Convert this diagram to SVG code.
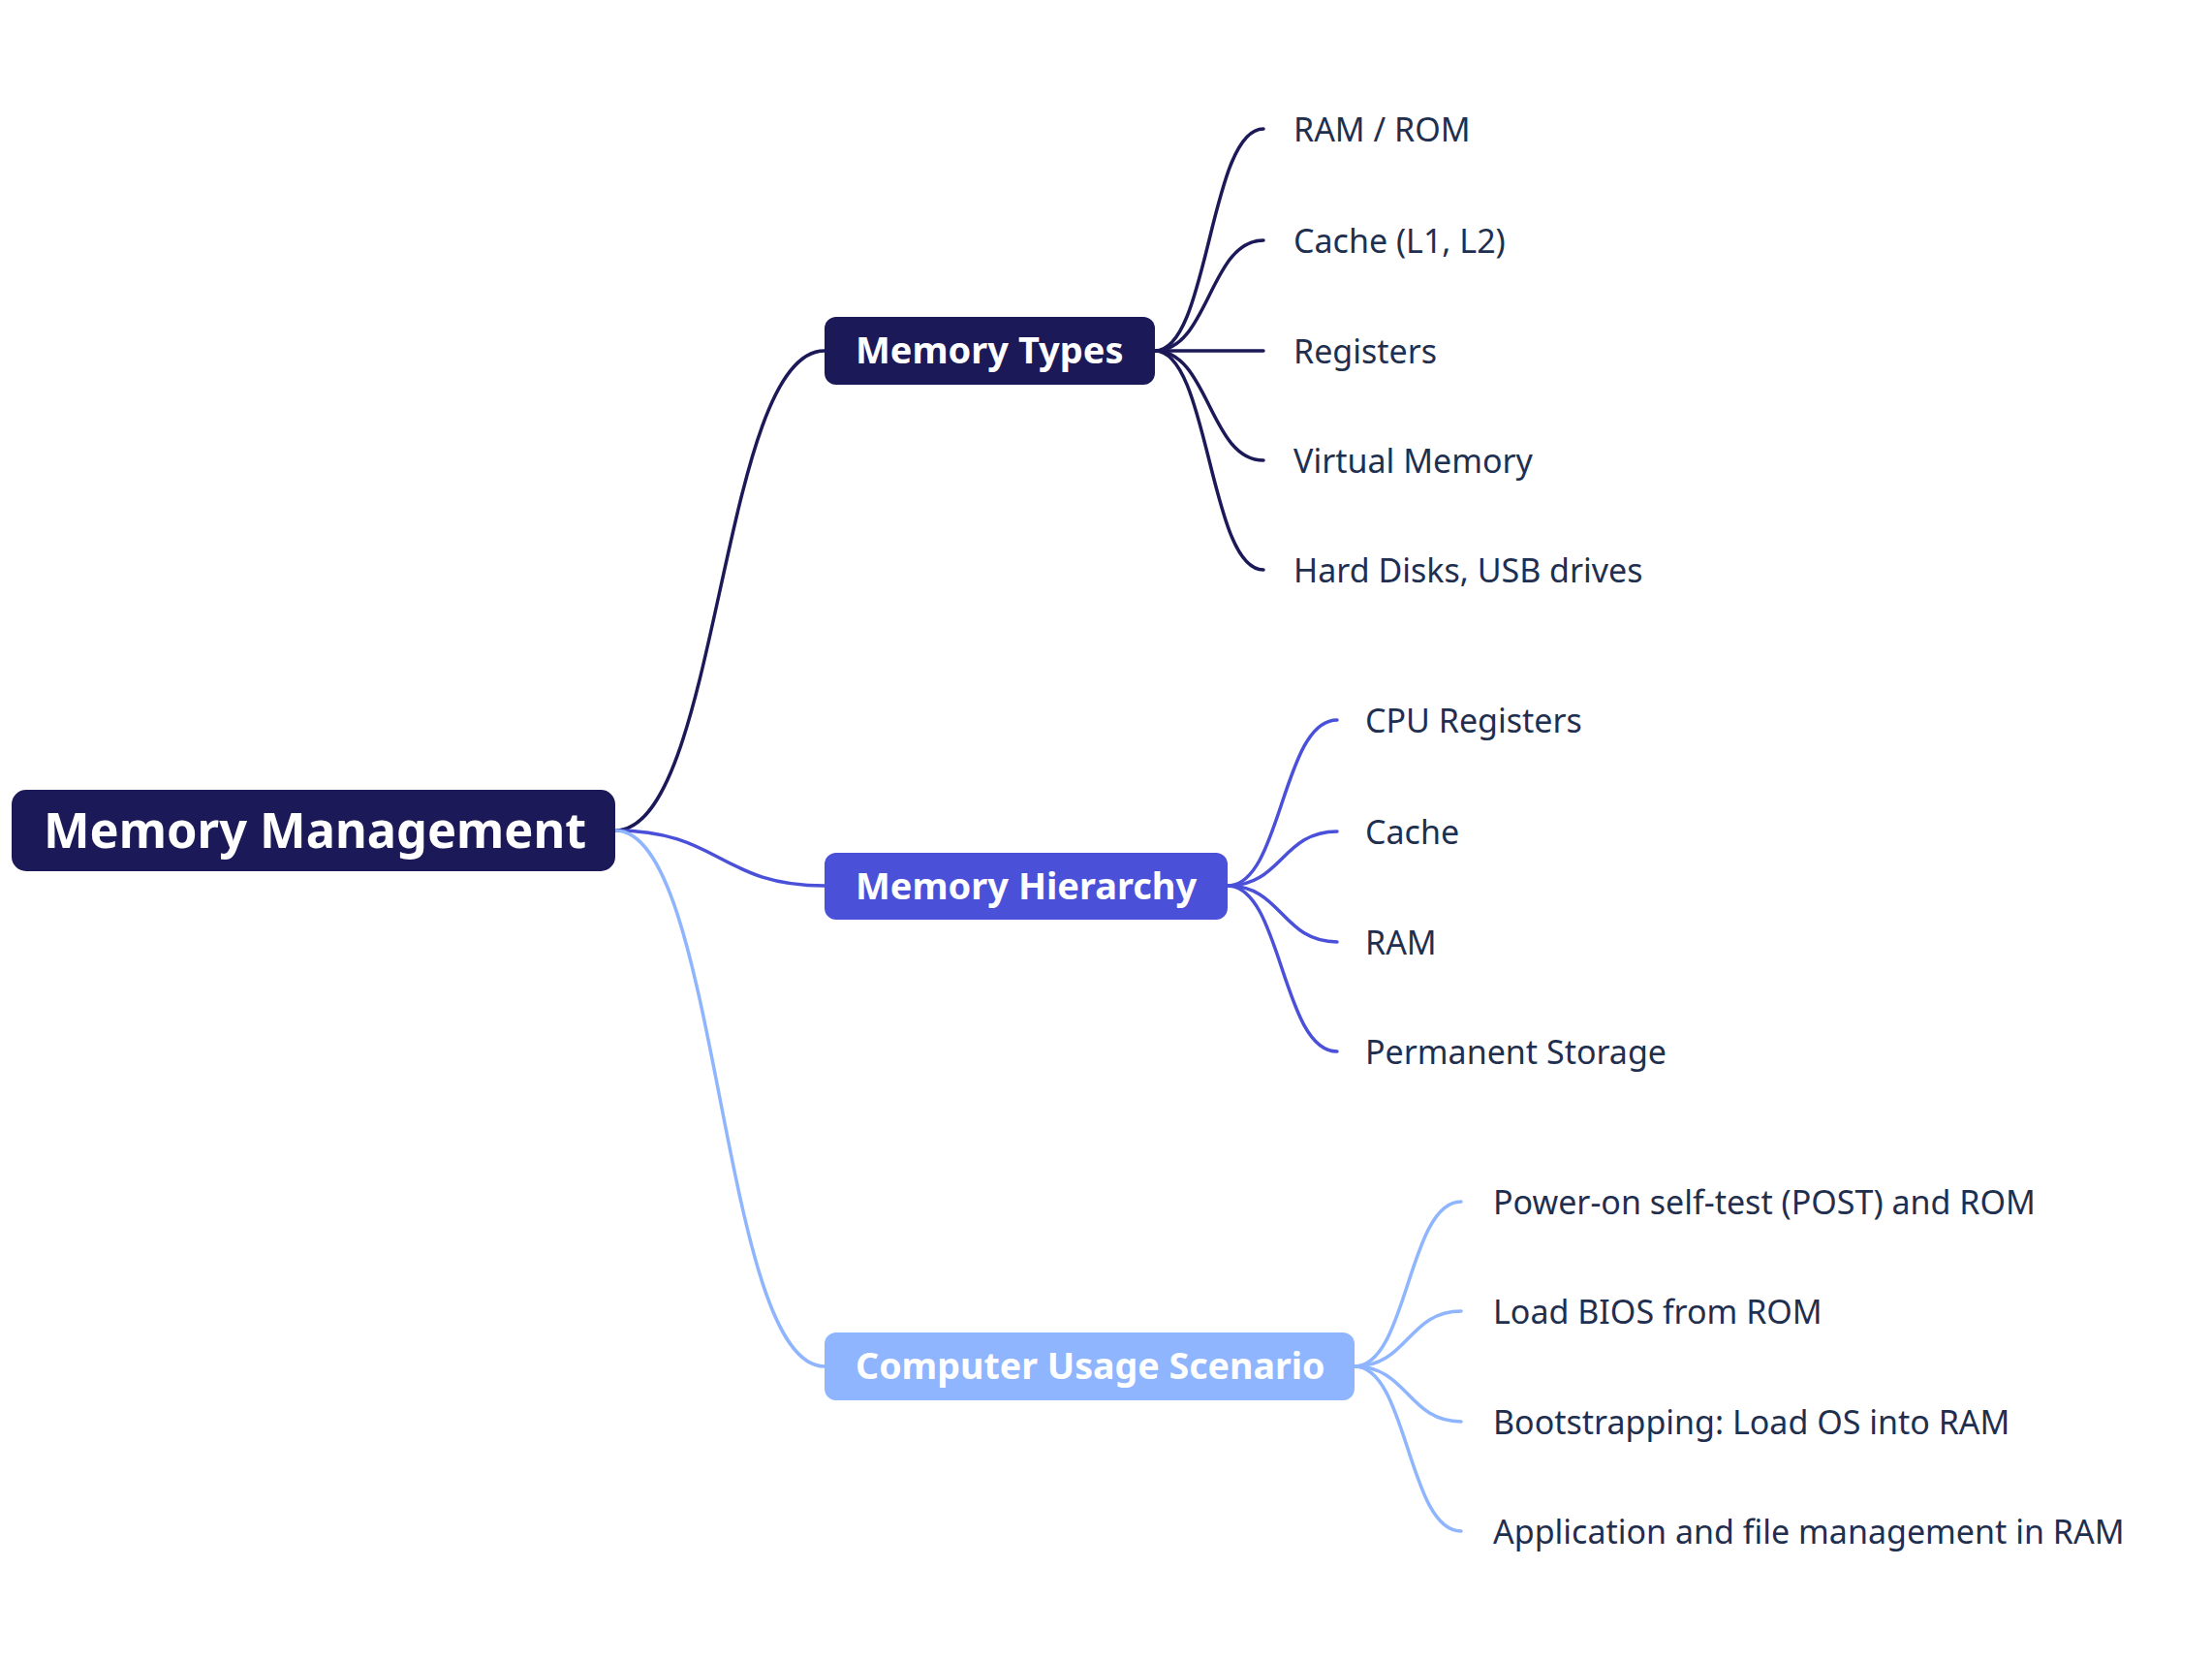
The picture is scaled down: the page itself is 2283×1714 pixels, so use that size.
<svg xmlns="http://www.w3.org/2000/svg" width="2283" height="1714" viewBox="0 0 2283 1714">
<style>
.box-text{font-family:"Noto Sans","Open Sans","Liberation Sans",sans-serif;font-weight:700;fill:#ffffff}
.leaf{font-family:"Noto Sans","Open Sans","Liberation Sans",sans-serif;font-size:34px;fill:#1f2f4f}
.c{fill:none;stroke-width:3.5;stroke-linecap:round}
.navy{stroke:#1b1958}
.blue{stroke:#4a51d8}
.light{stroke:#8fb5ff}
</style>
<rect width="2283" height="1714" fill="#ffffff"/>
<g id="connectors">
  <path class="c navy" d="M635,857 C743,857 743,362 851,362"/>
  <path class="c blue" d="M635,857 C743,857 743,914 851,914"/>
  <path class="c light" d="M635,857 C743,857 743,1410 851,1410"/>
  <path class="c navy" d="M1192,362 C1248,362 1248,133 1304,133"/>
  <path class="c navy" d="M1192,362 C1248,362 1248,248 1304,248"/>
  <path class="c navy" d="M1192,362 L1304,362"/>
  <path class="c navy" d="M1192,362 C1248,362 1248,475 1304,475"/>
  <path class="c navy" d="M1192,362 C1248,362 1248,588 1304,588"/>
  <path class="c blue" d="M1267,914 C1323,914 1323,743 1380,743"/>
  <path class="c blue" d="M1267,914 C1323,914 1323,858 1380,858"/>
  <path class="c blue" d="M1267,914 C1323,914 1323,972 1380,972"/>
  <path class="c blue" d="M1267,914 C1323,914 1323,1085 1380,1085"/>
  <path class="c light" d="M1398,1410 C1453,1410 1453,1240 1508,1240"/>
  <path class="c light" d="M1398,1410 C1453,1410 1453,1353 1508,1353"/>
  <path class="c light" d="M1398,1410 C1453,1410 1453,1467 1508,1467"/>
  <path class="c light" d="M1398,1410 C1453,1410 1453,1580 1508,1580"/>
</g>
<g id="root">
  <rect x="12" y="815" width="623" height="84" rx="15" fill="#1b1958"/>
  <text class="box-text" x="45" y="875" font-size="50.5">Memory Management</text>
</g>
<g id="memory-types">
  <rect x="851" y="327" width="341" height="70" rx="12" fill="#1b1958"/>
  <text class="box-text" x="883" y="375" font-size="38">Memory Types</text>
</g>
<g id="memory-hierarchy">
  <rect x="851" y="880" width="416" height="69" rx="12" fill="#4a51d8"/>
  <text class="box-text" x="883" y="928" font-size="38">Memory Hierarchy</text>
</g>
<g id="computer-usage">
  <rect x="851" y="1375" width="547" height="70" rx="12" fill="#8fb5ff"/>
  <text class="box-text" x="883" y="1423" font-size="37.6">Computer Usage Scenario</text>
</g>
<g id="leaf-ram-rom"><text class="leaf" x="1335" y="146">RAM / ROM</text></g>
<g id="leaf-cache-l1l2"><text class="leaf" x="1335" y="261">Cache (L1, L2)</text></g>
<g id="leaf-registers"><text class="leaf" x="1335" y="375">Registers</text></g>
<g id="leaf-virtual"><text class="leaf" x="1335" y="488">Virtual Memory</text></g>
<g id="leaf-hdd"><text class="leaf" x="1335" y="601">Hard Disks, USB drives</text></g>
<g id="leaf-cpu-reg"><text class="leaf" x="1409" y="756">CPU Registers</text></g>
<g id="leaf-cache"><text class="leaf" x="1409" y="871">Cache</text></g>
<g id="leaf-ram"><text class="leaf" x="1409" y="985">RAM</text></g>
<g id="leaf-perm"><text class="leaf" x="1409" y="1098">Permanent Storage</text></g>
<g id="leaf-post"><text class="leaf" x="1541" y="1253">Power-on self-test (POST) and ROM</text></g>
<g id="leaf-bios"><text class="leaf" x="1541" y="1366">Load BIOS from ROM</text></g>
<g id="leaf-boot"><text class="leaf" x="1541" y="1480">Bootstrapping: Load OS into RAM</text></g>
<g id="leaf-app"><text class="leaf" x="1541" y="1593">Application and file management in RAM</text></g>
</svg>
